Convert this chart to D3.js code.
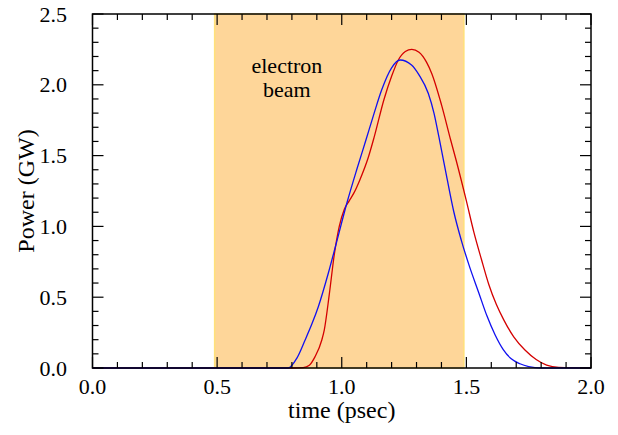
<!DOCTYPE html>
<html>
<head>
<meta charset="utf-8">
<script src="https://cdn.jsdelivr.net/npm/d3@7"></script>
<style>
  body { margin: 0; background: #fff; }
  svg { display: block; }
  text { font-family: 'Liberation Serif', 'Times New Roman', Times, serif; fill: #000; }
  .tick-label { font-size: 22px; }
  .title { font-size: 24px; }
  .beam-label { font-size: 22px; }
</style>
</head>
<body>
<script>
// time (psec), power (GW)
const blueT = [0.0, 0.70, 0.785, 0.82, 0.853, 0.88, 0.906, 0.946, 0.975, 1.022, 1.06, 1.097, 1.13, 1.16, 1.20, 1.234, 1.28, 1.31, 1.347, 1.37, 1.39, 1.42, 1.45, 1.48, 1.51, 1.55, 1.582, 1.615, 1.648, 1.68, 1.715, 1.75, 1.80, 2.0]
const blueP = [0.0, 0.0, 0.0, 0.07, 0.198, 0.31, 0.433, 0.669, 0.86, 1.174, 1.40, 1.61, 1.80, 1.963, 2.12, 2.175, 2.14, 2.07, 1.94, 1.80, 1.63, 1.36, 1.10, 0.90, 0.73, 0.53, 0.37, 0.235, 0.13, 0.065, 0.03, 0.01, 0.0, 0.0]

const redT = [0.0, 0.80, 0.845, 0.87, 0.893, 0.92, 0.93, 0.95, 0.97, 0.99, 1.01, 1.03, 1.05, 1.073, 1.107, 1.13, 1.17, 1.20, 1.227, 1.255, 1.281, 1.31, 1.34, 1.361, 1.40, 1.437, 1.46, 1.50, 1.53, 1.56, 1.59, 1.62, 1.65, 1.69, 1.735, 1.78, 1.822, 1.87, 2.0]
const redP = [0.0, 0.0, 0.003, 0.02, 0.08, 0.198, 0.27, 0.52, 0.80, 1.00, 1.12, 1.18, 1.24, 1.33, 1.49, 1.63, 1.90, 2.06, 2.175, 2.235, 2.25, 2.23, 2.16, 2.08, 1.86, 1.61, 1.46, 1.18, 0.96, 0.77, 0.59, 0.45, 0.34, 0.22, 0.127, 0.06, 0.02, 0.004, 0.0]

const beamRange = [0.49, 1.49]
const beamLabel = ['electron', 'beam']
const xTicks = [0.0, 0.5, 1.0, 1.5, 2.0]
const yTicks = [0.0, 0.5, 1.0, 1.5, 2.0, 2.5]

const width = 618, height = 435
const margin = { top: 14, right: 27, bottom: 67, left: 92.5 }
const innerW = width - margin.left - margin.right
const innerH = height - margin.top - margin.bottom

const svg = d3.select('body').append('svg')
  .attr('width', width)
  .attr('height', height)

const g = svg.append('g')
  .attr('transform', 'translate(' + margin.left + ',' + margin.top + ')')

const x = d3.scaleLinear().domain([0, 2]).range([0, innerW])
const y = d3.scaleLinear().domain([0, 2.5]).range([innerH, 0])

// electron beam band
g.append('rect')
  .attr('x', x(beamRange[0]))
  .attr('y', y(2.5))
  .attr('width', x(beamRange[1]) - x(beamRange[0]))
  .attr('height', y(0) - y(2.5))
  .attr('fill', '#fed699')
  .attr('stroke', '#ffe17a')
  .attr('stroke-width', 1.5)

g.append('text')
  .attr('class', 'beam-label')
  .attr('text-anchor', 'middle')
  .selectAll('tspan')
  .data(beamLabel)
  .enter()
  .append('tspan')
  .attr('x', x(0.78))
  .attr('y', function (d, i) { return 59 + i * 24 })
  .text(function (d) { return d })

const line = d3.line()
  .x(function (d) { return x(d[0]) })
  .y(function (d) { return y(d[1]) })
  .curve(d3.curveMonotoneX)

g.append('path')
  .datum(redT.map(function (t, i) { return [t, redP[i]] }))
  .attr('d', line)
  .attr('fill', 'none')
  .attr('stroke', '#d40000')
  .attr('stroke-width', 1.3)

g.append('path')
  .datum(blueT.map(function (t, i) { return [t, blueP[i]] }))
  .attr('d', line)
  .attr('fill', 'none')
  .attr('stroke', '#1010f0')
  .attr('stroke-width', 1.3)

// frame and inward ticks on all sides
const majorLen = 11, minorLen = 6
const xMinor = d3.range(0, 21).map(function (i) { return i / 10 })
const yMinor = d3.range(0, 26).map(function (i) { return i / 10 })
function isMajor (v) { return Math.abs(v * 2 - Math.round(v * 2)) < 1e-6 }

const tickG = g.append('g').attr('stroke', '#000').attr('stroke-width', 1.2)
xMinor.forEach(function (v) {
  const len = isMajor(v) ? majorLen : minorLen
  tickG.append('line').attr('x1', x(v)).attr('x2', x(v)).attr('y1', innerH).attr('y2', innerH - len)
  tickG.append('line').attr('x1', x(v)).attr('x2', x(v)).attr('y1', 0).attr('y2', len)
})
yMinor.forEach(function (v) {
  const len = isMajor(v) ? majorLen : minorLen
  tickG.append('line').attr('x1', 0).attr('x2', len).attr('y1', y(v)).attr('y2', y(v))
  tickG.append('line').attr('x1', innerW).attr('x2', innerW - len).attr('y1', y(v)).attr('y2', y(v))
})

g.append('rect')
  .attr('width', innerW)
  .attr('height', innerH)
  .attr('fill', 'none')
  .attr('stroke', '#000')
  .attr('stroke-width', 1.5)

// tick labels
g.selectAll('.xl')
  .data(xTicks)
  .enter()
  .append('text')
  .attr('class', 'tick-label')
  .attr('text-anchor', 'middle')
  .attr('x', function (d) { return x(d) })
  .attr('y', innerH + 26)
  .text(function (d) { return d.toFixed(1) })

g.selectAll('.yl')
  .data(yTicks)
  .enter()
  .append('text')
  .attr('class', 'tick-label')
  .attr('text-anchor', 'end')
  .attr('x', -25.5)
  .attr('y', function (d) { return y(d) + 7.5 })
  .text(function (d) { return d.toFixed(1) })

g.append('text')
  .attr('class', 'title')
  .attr('text-anchor', 'middle')
  .attr('x', innerW / 2)
  .attr('y', innerH + 50)
  .text('time (psec)')

g.append('text')
  .attr('class', 'title')
  .attr('text-anchor', 'middle')
  .attr('transform', 'translate(' + (-59) + ',' + (innerH / 2) + ') rotate(-90)')
  .text('Power (GW)')
</script>
</body>
</html>
